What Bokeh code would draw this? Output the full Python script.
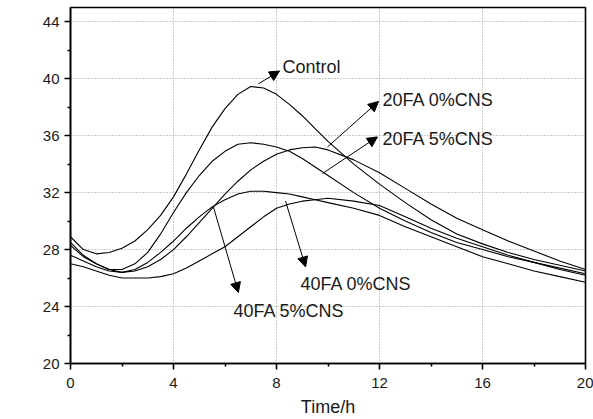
from bokeh.plotting import figure
from bokeh.models import Arrow, NormalHead, Label, FixedTicker, Range1d
from bokeh.embed import file_html
from bokeh.resources import INLINE
import math

# --- data (hours, temperature °C) ---
hours = [0, 0.5, 1, 1.5, 2, 2.5, 3, 3.5, 4, 4.5, 5, 5.5, 6, 6.5, 7, 7.5, 8, 8.5, 9, 9.5, 10,
         11, 12, 13, 14, 15, 16, 17, 18, 19, 20]
control = [28.9, 28.0, 27.7, 27.8, 28.1, 28.6, 29.4, 30.4, 31.7, 33.3, 35.0, 36.6, 37.9, 38.9, 39.45,
           39.35, 38.9, 38.2, 37.4, 36.5, 35.6, 34.0, 32.6, 31.3, 30.1, 29.1, 28.4, 27.8, 27.3, 26.9, 26.5]
fa20_cns5 = [28.5, 27.6, 27.0, 26.6, 26.6, 27.0, 27.8, 29.1, 30.6, 32.0, 33.2, 34.2, 34.9, 35.4, 35.5,
             35.4, 35.2, 34.9, 34.4, 33.8, 33.2, 32.0, 30.9, 30.0, 29.2, 28.5, 28.0, 27.5, 27.1, 26.7, 26.3]
fa20_cns0 = [28.3, 27.5, 27.0, 26.6, 26.4, 26.5, 26.8, 27.3, 28.0, 28.9, 29.9, 30.9, 31.9, 32.8, 33.6,
             34.2, 34.7, 35.0, 35.15, 35.2, 35.0, 34.3, 33.4, 32.3, 31.2, 30.2, 29.4, 28.6, 27.9, 27.2, 26.6]
fa40_cns5 = [27.6, 27.2, 26.8, 26.5, 26.4, 26.6, 27.1, 27.8, 28.6, 29.5, 30.3, 31.0, 31.5, 31.9, 32.1,
             32.1, 32.0, 31.9, 31.7, 31.5, 31.3, 30.9, 30.4, 29.6, 28.9, 28.2, 27.5, 27.0, 26.5, 26.1, 25.7]
fa40_cns0 = [27.0, 26.8, 26.5, 26.2, 26.0, 26.0, 26.0, 26.1, 26.3, 26.7, 27.2, 27.7, 28.2, 28.9, 29.6,
             30.3, 30.9, 31.2, 31.4, 31.5, 31.6, 31.4, 31.1, 30.3, 29.5, 28.8, 28.2, 27.6, 27.1, 26.6, 26.2]

series = [control, fa20_cns0, fa20_cns5, fa40_cns0, fa40_cns5]

# annotations: label text, arrow start, arrow end, label anchor (left-middle)
ann_text = ["Control", "20FA 0%CNS", "20FA 5%CNS", "40FA 0%CNS", "40FA 5%CNS"]
ann_start = [(7.30, 39.64), (9.98, 35.21), (9.79, 33.35), (8.35, 31.41), (5.55, 31.0)]
ann_end = [(8.12, 40.54), (11.96, 38.40), (11.92, 35.91), (9.13, 26.78), (6.52, 24.98)]
ann_pos = [(8.23, 40.82), (12.12, 38.53), (12.12, 35.77), (8.93, 25.6), (6.33, 23.67)]

x_ticks = [0, 4, 8, 12, 16, 20]
y_ticks = [20, 24, 28, 32, 36, 40, 44]

FONT = "Liberation Sans"

p = figure(width=593, height=419, output_backend="svg", toolbar_location=None,
           x_range=Range1d(0, 20), y_range=Range1d(20, 45),
           min_border_left=70, min_border_right=8, min_border_top=7, min_border_bottom=51)

for s in series:
    p.line(hours, s, line_color="black", line_width=1.1)

for t, s0, e0, pos in zip(ann_text, ann_start, ann_end, ann_pos):
    p.add_layout(Arrow(end=NormalHead(size=10, fill_color="black", line_color="black", line_width=1),
                       x_start=s0[0], y_start=s0[1], x_end=e0[0], y_end=e0[1],
                       line_color="black", line_width=1))
    p.add_layout(Label(x=pos[0], y=pos[1], text=t, text_font=FONT, text_font_size="18px",
                       text_baseline="middle", text_align="left", text_color="#1a1a1a"))

for ax in (p.xaxis[0], p.yaxis[0]):
    ax.major_label_text_font = FONT
    ax.major_label_text_font_size = "15px"
    ax.major_label_text_color = "#1a1a1a"
    ax.axis_line_width = 1.6
    ax.major_tick_line_width = 1.6
    ax.minor_tick_line_width = 1.6
    ax.major_tick_out = 6
    ax.major_tick_in = 0
    ax.minor_tick_out = 3
    ax.minor_tick_in = 0
    ax.axis_label_text_font = FONT
    ax.axis_label_text_font_size = "18px"
    ax.axis_label_text_font_style = "normal"
    ax.axis_label_text_color = "#1a1a1a"

p.xaxis.ticker = FixedTicker(ticks=x_ticks, minor_ticks=[2, 6, 10, 14, 18])
p.yaxis.ticker = FixedTicker(ticks=y_ticks, minor_ticks=[22, 26, 30, 34, 38, 42])
p.xaxis.axis_label = "Time/h"
p.xaxis.axis_label_standoff = 6
p.xaxis.major_label_standoff = 8
p.yaxis.major_label_standoff = 5

p.add_layout(Label(x=-2.02, y=31.3, text="Temperature / °C", angle=math.pi / 2,
                   text_font=FONT, text_font_size="18px", text_align="center",
                   text_baseline="middle", text_color="#1a1a1a"))

p.xgrid.grid_line_color = "#999999"
p.ygrid.grid_line_color = "#999999"
p.xgrid.grid_line_dash = "1 2"
p.ygrid.grid_line_dash = "1 2"
p.xgrid.grid_line_width = 1
p.ygrid.grid_line_width = 1

p.outline_line_color = "black"
p.outline_line_width = 1.6
p.outline_line_alpha = 1

open("out.html", "w").write(file_html(p, INLINE))
